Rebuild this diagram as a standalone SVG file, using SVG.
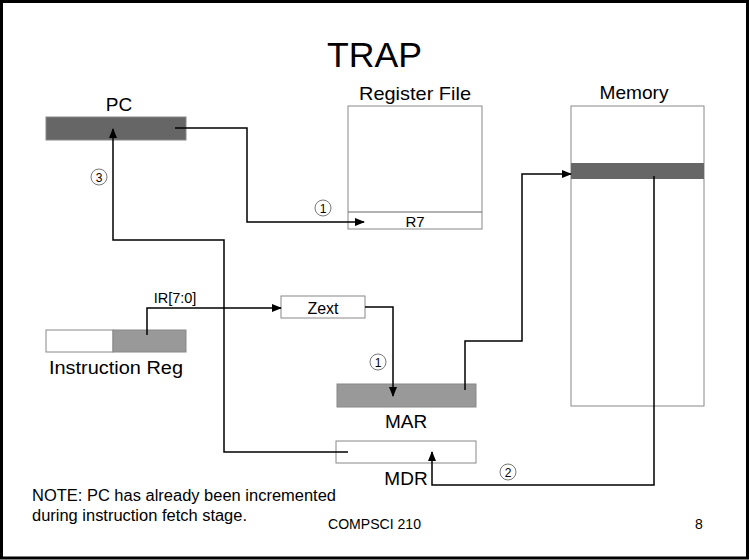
<svg xmlns="http://www.w3.org/2000/svg" width="749" height="560" viewBox="0 0 749 560">
<defs>
<marker id="ah" markerWidth="10" markerHeight="8" refX="9" refY="4" orient="auto" markerUnits="userSpaceOnUse">
<path d="M0,0 L10,4 L0,8 Z" fill="#000"/>
</marker>
<style>
text{font-family:"Liberation Sans",Arial,sans-serif;fill:#000}
.lbl{font-size:19px;text-anchor:middle}
.wire{fill:none;stroke:#000;stroke-width:1.5}
.box{stroke:#888;stroke-width:1}
.num{fill:#fff;stroke:#555;stroke-width:0.8}
.numt{font-size:12px;text-anchor:middle}
</style>
</defs>
<rect x="1.5" y="1.5" width="746" height="556.5" fill="#fff" stroke="#000" stroke-width="3"/>
<text x="374.5" y="67" font-size="35" text-anchor="middle" textLength="95" lengthAdjust="spacingAndGlyphs">TRAP</text>

<g id="pc">
<text class="lbl" x="119" y="111" font-size="18">PC</text>
<rect class="box" x="46" y="117" width="140" height="23" fill="#666"/>
</g>
<g id="regfile">
<text class="lbl" x="415" y="100" font-size="18" textLength="112" lengthAdjust="spacingAndGlyphs">Register File</text>
<rect class="box" x="348" y="106" width="134" height="123" fill="#fff"/>
<line x1="348" y1="212" x2="482" y2="212" stroke="#666" stroke-width="1"/>
<text x="415" y="227" font-size="15" text-anchor="middle">R7</text>
</g>
<g id="memory">
<text class="lbl" x="634" y="99" font-size="18" textLength="69" lengthAdjust="spacingAndGlyphs">Memory</text>
<rect class="box" x="571" y="106" width="133" height="300" fill="#fff"/>
<rect x="571" y="163" width="133" height="16" fill="#666"/>
</g>
<g id="ir">
<rect class="box" x="46" y="330" width="67" height="22" fill="#fff"/>
<rect class="box" x="113" y="330" width="73" height="22" fill="#999"/>
<text x="49" y="374" font-size="18" textLength="134" lengthAdjust="spacingAndGlyphs">Instruction Reg</text>
</g>
<g id="zext">
<rect class="box" x="281" y="296" width="84" height="22" fill="#fff"/>
<text x="323" y="314" font-size="16" text-anchor="middle">Zext</text>
</g>
<g id="mar">
<rect class="box" x="337" y="384" width="139" height="23" fill="#999"/>
<text class="lbl" x="406" y="428">MAR</text>
</g>
<g id="mdr">
<rect class="box" x="336" y="441" width="140" height="22" fill="#fff"/>
<text class="lbl" x="406" y="485">MDR</text>
</g>

<g id="connectors">
<polyline class="wire" points="175,128 247,128 247,222 364,222" marker-end="url(#ah)"/>
<polyline class="wire" points="348,452 224,452 224,240 113,240 113,129" marker-end="url(#ah)"/>
<polyline class="wire" points="147,335 147,308 281,308" marker-end="url(#ah)"/>
<polyline class="wire" points="365,307 393,307 393,396" marker-end="url(#ah)"/>
<polyline class="wire" points="465,390 465,341 522,341 522,174 571,174" marker-end="url(#ah)"/>
<polyline class="wire" points="654,176 654,485 432,485 432,452" marker-end="url(#ah)"/>
<text x="175" y="303" font-size="14.5" text-anchor="middle">IR[7:0]</text>
<circle class="num" cx="99" cy="177" r="8"/><text class="numt" x="99" y="181.5">3</text>
<circle class="num" cx="323" cy="208" r="8"/><text class="numt" x="323" y="212.5">1</text>
<circle class="num" cx="378" cy="362" r="8"/><text class="numt" x="378" y="366.5">1</text>
<circle class="num" cx="508" cy="472" r="8"/><text class="numt" x="508" y="476.5">2</text>
</g>

<text x="32" y="501" font-size="16" textLength="304" lengthAdjust="spacingAndGlyphs">NOTE: PC has already been incremented</text>
<text x="32" y="521" font-size="16" textLength="215" lengthAdjust="spacingAndGlyphs">during instruction fetch stage.</text>
<text x="374.5" y="529" font-size="14" text-anchor="middle" textLength="93" lengthAdjust="spacingAndGlyphs">COMPSCI 210</text>
<text x="699" y="529" font-size="14" text-anchor="middle">8</text>
</svg>
